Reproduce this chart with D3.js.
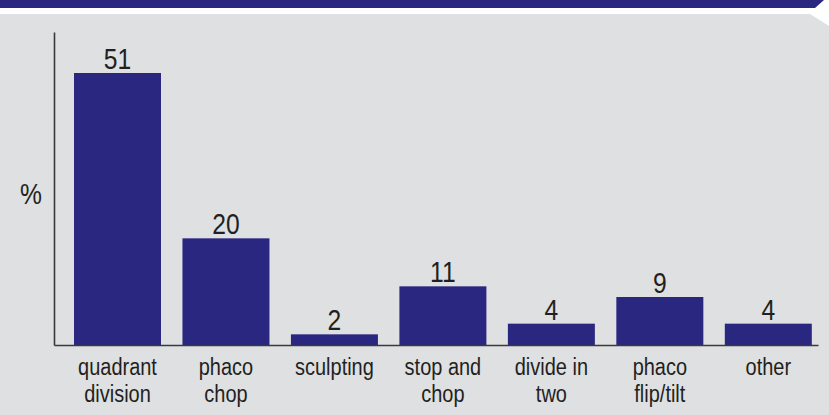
<!DOCTYPE html>
<html>
<head>
<meta charset="utf-8">
<script src="https://cdn.jsdelivr.net/npm/d3@7"></script>
<style>
  html, body { margin: 0; padding: 0; background: #fff; }
  svg { display: block; }
  text { font-family: "Liberation Sans Narrow", "Arial Narrow", "Liberation Sans", sans-serif; fill: #231f20; }
</style>
</head>
<body>
<div id="chart"></div>
<script>
// datos del gráfico
const categorias = [
  ["quadrant", "division"],
  ["phaco", "chop"],
  ["sculpting"],
  ["stop and", "chop"],
  ["divide in", "two"],
  ["phaco", "flip/tilt"],
  ["other"]
];
const valores = [51, 20, 2, 11, 4, 9, 4];
const etiquetaY = "%";

const width = 829;
const height = 415;
const azul = "#29277f";
const gris = "#dfe0e2";
const estrecho = 0.85; // fuente condensada

const svg = d3.select("#chart")
  .append("svg")
  .attr("width", width)
  .attr("height", height);

// fondo gris con muesca a la derecha
svg.append("path")
  .attr("d", "M0,14 L810,14 L829,26 L829,415 L0,415 Z")
  .attr("fill", gris);

// banda azul superior
svg.append("path")
  .attr("d", "M0,0 L824,0 L815,8 L0,8 Z")
  .attr("fill", azul);

const ids = categorias.map((d, i) => i);

const x = d3.scaleBand()
  .domain(ids)
  .range([63.15, 822.65])
  .paddingInner(0.198)
  .paddingOuter(0.1);

const y = d3.scaleLinear()
  .domain([0, 51])
  .range([345, 73]);

// barras
svg.selectAll("rect.bar")
  .data(valores)
  .enter()
  .append("rect")
  .attr("class", "bar")
  .attr("x", (d, i) => x(i))
  .attr("y", d => y(d))
  .attr("width", x.bandwidth())
  .attr("height", d => y(0) - y(d))
  .attr("fill", azul);

// valores encima de las barras
svg.selectAll("text.valor")
  .data(valores)
  .enter()
  .append("text")
  .attr("class", "valor")
  .attr("transform", (d, i) => `translate(${x(i) + x.bandwidth() / 2},${y(d) - 4}) scale(${estrecho},1)`)
  .attr("text-anchor", "middle")
  .style("font-size", "29px")
  .text(d => d);

// ejes (solo las líneas)
const yAxis = d3.axisLeft(d3.scaleLinear().range([345, 32])).ticks(0).tickSize(0);
svg.append("g")
  .attr("class", "y-axis")
  .attr("transform", "translate(54,0)")
  .call(yAxis)
  .call(g => g.select(".domain").attr("stroke", "#3a3a3a").attr("stroke-width", 1.6));

const xAxis = d3.axisBottom(d3.scaleLinear().range([54, 818])).ticks(0).tickSize(0);
svg.append("g")
  .attr("class", "x-axis")
  .attr("transform", "translate(0,345)")
  .call(xAxis)
  .call(g => g.select(".domain").attr("stroke", "#3a3a3a").attr("stroke-width", 1.6));

// etiquetas de categoría
const etiquetas = svg.selectAll("text.cat")
  .data(categorias)
  .enter()
  .append("text")
  .attr("class", "cat")
  .attr("text-anchor", "middle")
  .attr("transform", (d, i) => `translate(${x(i) + x.bandwidth() / 2},375) scale(${estrecho},1)`)
  .style("font-size", "23.5px");

etiquetas.selectAll("tspan")
  .data(d => d)
  .enter()
  .append("tspan")
  .attr("x", 0)
  .attr("dy", (d, i) => i === 0 ? 0 : 27)
  .text(d => d);

// etiqueta eje y
svg.append("text")
  .attr("transform", `translate(31,204) scale(${estrecho},1)`)
  .attr("text-anchor", "middle")
  .style("font-size", "29px")
  .text(etiquetaY);
</script>
</body>
</html>
